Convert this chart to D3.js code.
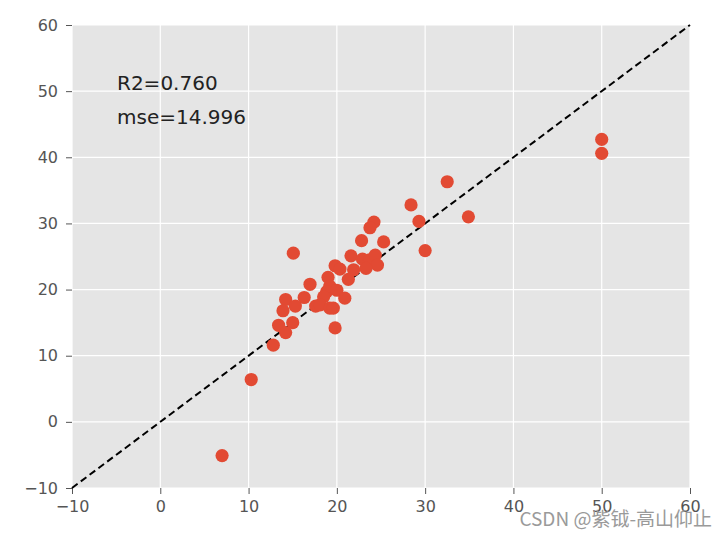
<!DOCTYPE html>
<html><head><meta charset="utf-8">
<script src="https://cdn.jsdelivr.net/npm/d3@7"></script>
<style>body{margin:0;background:#fff}svg{display:block}</style>
</head><body>
<svg id="c" width="728" height="538"></svg>
<script>
const trueVals = [50.0,50.0,32.5,28.4,29.3,34.9,30.0,25.3,24.2,23.75,22.8,15.07,21.6,22.9,23.7,24.35,24.6,23.3,19.8,20.35,21.9,21.3,19.0,16.96,19.2,18.85,18.5,20.0,16.3,20.9,14.2,15.3,17.6,18.1,19.2,19.6,13.9,15.0,13.4,14.2,19.8,12.8,10.3,7.0];
const predVals = [42.7,40.6,36.3,32.8,30.3,31.0,25.9,27.2,30.2,29.35,27.4,25.5,25.1,24.6,24.5,25.2,23.7,23.2,23.6,23.1,23.0,21.55,21.85,20.8,20.5,19.7,18.9,19.9,18.8,18.7,18.5,17.5,17.5,17.7,17.2,17.2,16.8,15.0,14.6,13.5,14.2,11.6,6.4,-5.1];
const xTicks = [-10,0,10,20,30,40,50,60];
const yTicks = [-10,0,10,20,30,40,50,60];
const r2Text = "R2=0.760";
const mseText = "mse=14.996";

const svg = d3.select("#c");
const L=72,R=690,T=25,B=488;
const x = d3.scaleLinear().domain([-10,60]).range([L,R]);
const y = d3.scaleLinear().domain([-10,60]).range([B,T]);

svg.append("rect").attr("x",L).attr("y",T).attr("width",R-L).attr("height",B-T).attr("fill","#E5E5E5");
// grid
svg.append("g").selectAll("line").data(xTicks).join("line")
  .attr("x1",d=>x(d)).attr("x2",d=>x(d)).attr("y1",T).attr("y2",B)
  .attr("stroke","#fff").attr("stroke-width",1.2);
svg.append("g").selectAll("line").data(yTicks).join("line")
  .attr("y1",d=>y(d)).attr("y2",d=>y(d)).attr("x1",L).attr("x2",R)
  .attr("stroke","#fff").attr("stroke-width",1.2);

const fmt = d => d<0 ? "\u2212"+Math.abs(d) : ""+d;
const xa = svg.append("g").attr("transform",`translate(0,${B})`)
  .call(d3.axisBottom(x).tickValues(xTicks).tickFormat(fmt).tickSize(6).tickPadding(7));
const ya = svg.append("g").attr("transform",`translate(${L},0)`)
  .call(d3.axisLeft(y).tickValues(yTicks).tickFormat(fmt).tickSize(6).tickPadding(8));
[xa,ya].forEach(a=>{
  a.select(".domain").remove();
  a.selectAll("line").attr("stroke","#555").attr("stroke-width",1);
  a.selectAll("text").attr("fill","#555").attr("font-family","DejaVu Sans").attr("font-size",16);
});

// diagonal
svg.append("line").attr("x1",x(-10)).attr("y1",y(-10)).attr("x2",x(60)).attr("y2",y(60))
  .attr("stroke","#000").attr("stroke-width",2).attr("stroke-dasharray","7,4");

svg.append("g").selectAll("circle").data(trueVals.map((t,i)=>[t,predVals[i]])).join("circle")
  .attr("cx",d=>x(d[0])).attr("cy",d=>y(d[1])).attr("r",6.6).attr("fill","#E24A33");

svg.append("text").attr("x",117).attr("y",89.5).text(r2Text)
  .attr("font-family","DejaVu Sans").attr("font-size",20).attr("fill","#222");
svg.append("text").attr("x",117).attr("y",123.5).text(mseText)
  .attr("font-family","DejaVu Sans").attr("font-size",20).attr("fill","#222");

svg.append("text").attr("x",712).attr("y",526).attr("text-anchor","end").text("CSDN @紫钺-高山仰止")
  .attr("font-family","Noto Sans CJK SC").attr("font-size",19).attr("fill","#9a9a9a");
</script>
</body></html>
